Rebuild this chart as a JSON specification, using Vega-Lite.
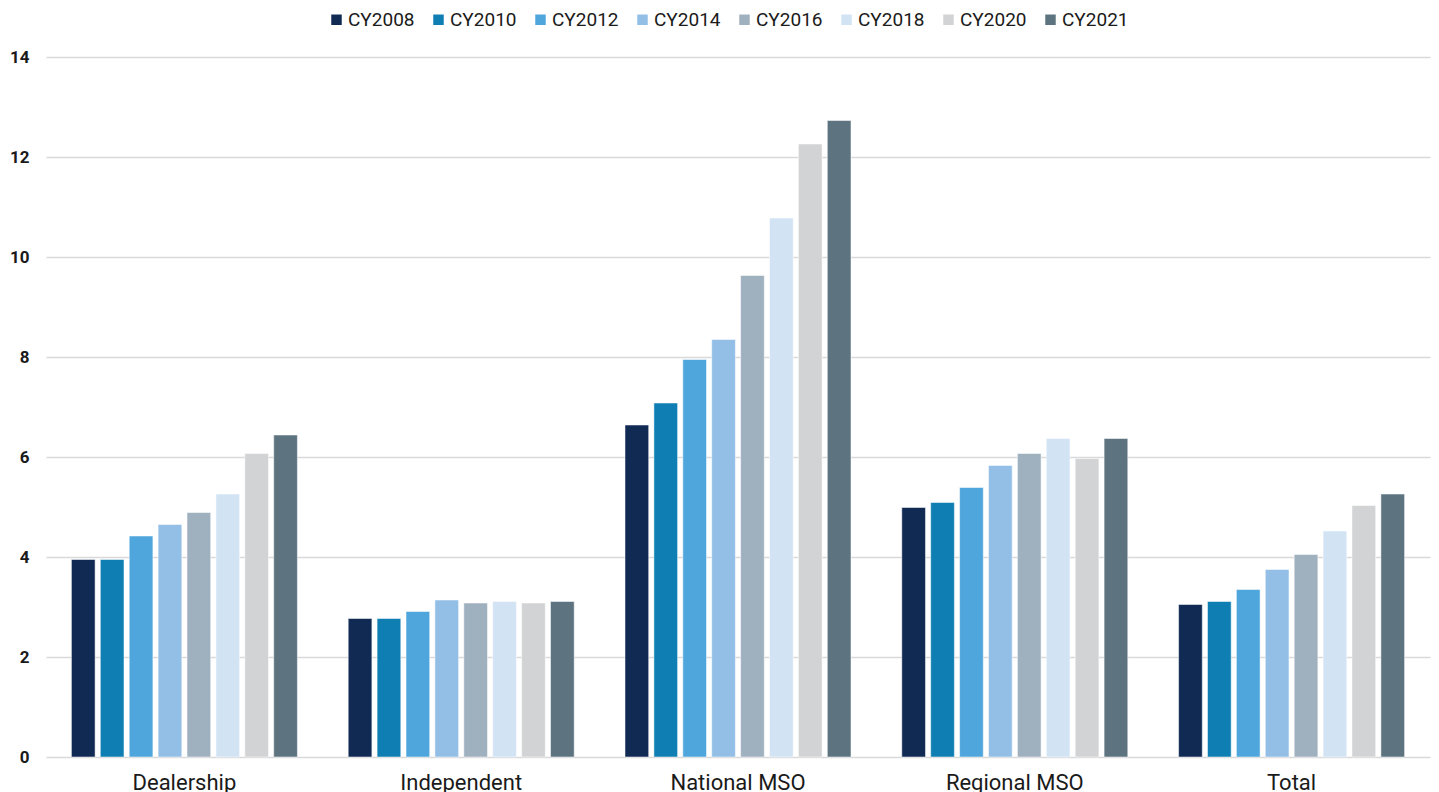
{
  "$schema": "https://vega.github.io/schema/vega-lite/v6.json",
  "autosize": {"type": "none"},
  "width": 1384,
  "height": 700,
  "padding": {"top": 57, "left": 46, "right": 9, "bottom": 35},
  "background": "#ffffff",
  "config": {
    "font": "Roboto",
    "view": {"stroke": null},
    "axis": {"labelColor": "#1a1a1a", "ticks": false, "domain": false, "title": null},
    "legend": {"labelColor": "#1a1a1a"}
  },
  "data": {
    "values": [
      {"segment": "Dealership", "year": "CY2008", "value": 3.95},
      {"segment": "Dealership", "year": "CY2010", "value": 3.95},
      {"segment": "Dealership", "year": "CY2012", "value": 4.42},
      {"segment": "Dealership", "year": "CY2014", "value": 4.65},
      {"segment": "Dealership", "year": "CY2016", "value": 4.89},
      {"segment": "Dealership", "year": "CY2018", "value": 5.26},
      {"segment": "Dealership", "year": "CY2020", "value": 6.07},
      {"segment": "Dealership", "year": "CY2021", "value": 6.44},
      {"segment": "Independent", "year": "CY2008", "value": 2.77},
      {"segment": "Independent", "year": "CY2010", "value": 2.77},
      {"segment": "Independent", "year": "CY2012", "value": 2.91},
      {"segment": "Independent", "year": "CY2014", "value": 3.14},
      {"segment": "Independent", "year": "CY2016", "value": 3.08},
      {"segment": "Independent", "year": "CY2018", "value": 3.11},
      {"segment": "Independent", "year": "CY2020", "value": 3.08},
      {"segment": "Independent", "year": "CY2021", "value": 3.11},
      {"segment": "National MSO", "year": "CY2008", "value": 6.64},
      {"segment": "National MSO", "year": "CY2010", "value": 7.08},
      {"segment": "National MSO", "year": "CY2012", "value": 7.95},
      {"segment": "National MSO", "year": "CY2014", "value": 8.35},
      {"segment": "National MSO", "year": "CY2016", "value": 9.63},
      {"segment": "National MSO", "year": "CY2018", "value": 10.78},
      {"segment": "National MSO", "year": "CY2020", "value": 12.26},
      {"segment": "National MSO", "year": "CY2021", "value": 12.73},
      {"segment": "Regional MSO", "year": "CY2008", "value": 4.99},
      {"segment": "Regional MSO", "year": "CY2010", "value": 5.09},
      {"segment": "Regional MSO", "year": "CY2012", "value": 5.39},
      {"segment": "Regional MSO", "year": "CY2014", "value": 5.83},
      {"segment": "Regional MSO", "year": "CY2016", "value": 6.07},
      {"segment": "Regional MSO", "year": "CY2018", "value": 6.37},
      {"segment": "Regional MSO", "year": "CY2020", "value": 5.97},
      {"segment": "Regional MSO", "year": "CY2021", "value": 6.37},
      {"segment": "Total", "year": "CY2008", "value": 3.05},
      {"segment": "Total", "year": "CY2010", "value": 3.11},
      {"segment": "Total", "year": "CY2012", "value": 3.35},
      {"segment": "Total", "year": "CY2014", "value": 3.75},
      {"segment": "Total", "year": "CY2016", "value": 4.05},
      {"segment": "Total", "year": "CY2018", "value": 4.52},
      {"segment": "Total", "year": "CY2020", "value": 5.03},
      {"segment": "Total", "year": "CY2021", "value": 5.26}
    ]
  },
  "mark": {"type": "bar", "stroke": "#ffffff", "strokeOpacity": 0.5, "strokeWidth": 1},
  "encoding": {
    "x": {
      "field": "segment",
      "type": "nominal",
      "sort": null,
      "scale": {"paddingInner": 0.1835, "paddingOuter": 0.0918},
      "axis": {"labelAngle": 0, "labelFontSize": 22, "labelPadding": 15, "grid": false}
    },
    "xOffset": {
      "field": "year",
      "type": "nominal",
      "sort": null,
      "scale": {"paddingInner": 0.18, "paddingOuter": 0}
    },
    "y": {
      "field": "value",
      "type": "quantitative",
      "scale": {"domain": [0, 14], "nice": false},
      "axis": {
        "values": [0, 2, 4, 6, 8, 10, 12, 14],
        "labelFontSize": 17,
        "labelFontWeight": "bold",
        "labelPadding": 17,
        "gridColor": "#d9d9d9",
        "gridWidth": 1.5
      }
    },
    "color": {
      "field": "year",
      "type": "nominal",
      "sort": null,
      "scale": {
        "domain": ["CY2008", "CY2010", "CY2012", "CY2014", "CY2016", "CY2018", "CY2020", "CY2021"],
        "range": ["#102a54", "#0f7eb3", "#4fa6dc", "#93bfe6", "#9fb1bf", "#d2e3f4", "#d2d3d5", "#5d7480"]
      },
      "legend": {
        "orient": "none",
        "legendX": 281,
        "legendY": -47,
        "direction": "horizontal",
        "title": null,
        "labelFontSize": 19,
        "symbolType": "square",
        "symbolSize": 110,
        "symbolStrokeWidth": 0,
        "labelOffset": 2,
        "columnPadding": 14
      }
    }
  }
}
